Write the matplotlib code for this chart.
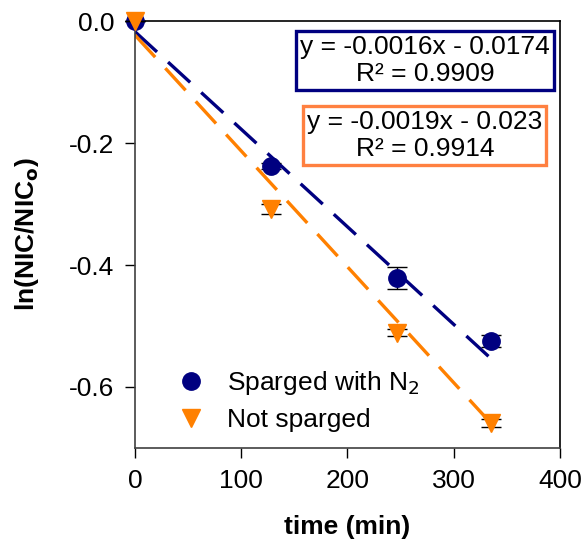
import numpy as np
import matplotlib
matplotlib.use("Agg")
from matplotlib import pyplot as plt
from matplotlib.lines import Line2D

plt.rcParams['font.family'] = ['Liberation Sans', 'DejaVu Sans']

# data
time = [0, 128, 247, 335]
sparged = [0.0, -0.238, -0.421, -0.524]
sparged_err = [0.0, 0.005, 0.018, 0.01]
not_sparged = [0.0, -0.308, -0.511, -0.659]
not_sparged_err = [0.0, 0.008, 0.006, 0.007]

fit_sp = (-0.0016, -0.0174, 0.9909)
fit_ns = (-0.0019, -0.023, 0.9914)

navy = '#000080'
orange = '#FF8000'
fs = 19

fig = plt.figure(figsize=(5.84, 5.46), dpi=100)
ax = fig.add_axes([0.231, 0.1795, 0.728, 0.782])

# trend lines
xf = np.array([0, 335])
ax.plot(xf, fit_sp[0] * xf + fit_sp[1], color=navy, lw=2.4, dashes=(9, 4.5), zorder=2)
ax.plot(xf, fit_ns[0] * xf + fit_ns[1], color=orange, lw=2.4, dashes=(9, 4.5), zorder=2)

# points
ax.errorbar(time, sparged, yerr=sparged_err, fmt='o', color=navy, ms=12.5,
            ecolor='black', elinewidth=1, capsize=7, capthick=1,
            zorder=3, clip_on=False)
ax.errorbar(time, not_sparged, yerr=not_sparged_err, fmt='v', color=orange, ms=13,
            ecolor='black', elinewidth=1, capsize=7, capthick=1,
            zorder=4, clip_on=False)

ax.set_xlim(0, 400)
ax.set_ylim(-0.7, 0.0)
ax.set_xticks([0, 100, 200, 300, 400])
ax.set_yticks([0.0, -0.2, -0.4, -0.6])
ax.set_yticklabels(['0.0', '-0.2', '-0.4', '-0.6'])
ax.tick_params(direction='out', length=7, width=1, labelsize=fs, pad=8)
for s in ['left', 'bottom']:
    ax.spines[s].set_color('#404040')
for s in ax.spines.values():
    s.set_linewidth(1.2)

ax.set_xlabel('time (min)', fontsize=fs, fontweight='bold', labelpad=16)
ax.set_ylabel('ln(NIC/NIC$_\\mathbf{o}$)', fontsize=fs, fontweight='bold', labelpad=20)

# equation boxes
ax.text(0.682, 0.9075, 'y = -0.0016x - 0.0174\nR² = 0.9909', transform=ax.transAxes,
        ha='center', va='center', fontsize=fs, linespacing=1.2,
        bbox=dict(boxstyle='square,pad=0.15', fc='white', ec=navy, lw=2.4))
ax.text(0.682, 0.732, 'y = -0.0019x - 0.023\nR² = 0.9914', transform=ax.transAxes,
        ha='center', va='center', fontsize=fs, linespacing=1.2,
        bbox=dict(boxstyle='square,pad=0.15', fc='white', ec='#FF8040', lw=2.4))

handles = [Line2D([], [], ls='none', marker='o', color=navy, ms=12.5),
           Line2D([], [], ls='none', marker='v', color=orange, ms=13)]
ax.legend(handles, ['Sparged with N$_2$', 'Not sparged'], loc='lower left',
          frameon=False, fontsize=fs, handletextpad=0.6, handlelength=1.5,
          bbox_to_anchor=(0.03, -0.018), labelspacing=0.4)

fig.savefig('out.png', dpi=100)
